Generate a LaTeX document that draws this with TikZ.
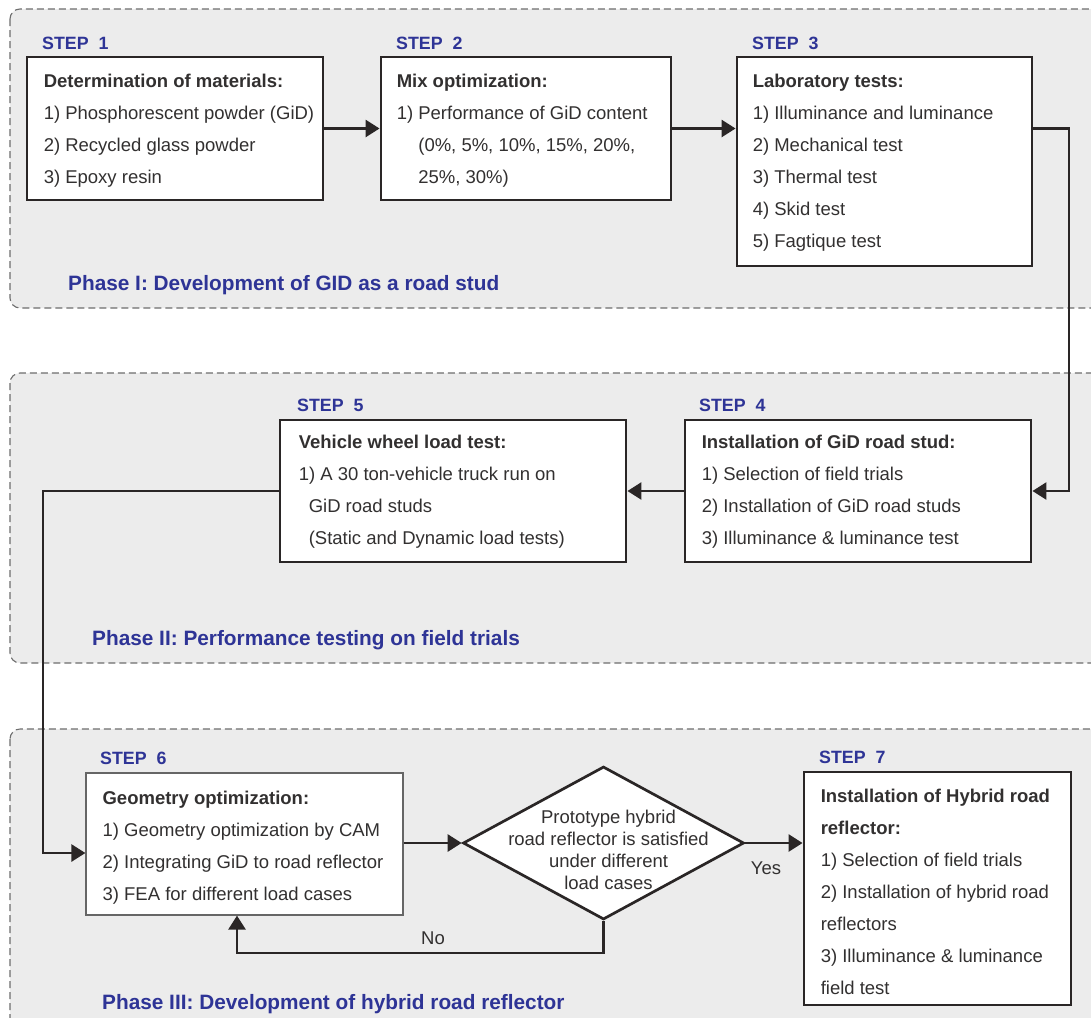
\documentclass[tikz,border=0pt]{standalone}
\usepackage{fontspec}
\setmainfont{Liberation Sans}
\usetikzlibrary{arrows.meta,shapes.geometric,calc}
\definecolor{panelfill}{RGB}{236,236,236}
\definecolor{dashgray}{RGB}{110,110,110}
\definecolor{stepblue}{RGB}{46,52,150}
\definecolor{textgray}{RGB}{50,48,48}
\definecolor{linegray}{RGB}{42,38,38}
\begin{document}
\begin{tikzpicture}[x=1pt,y=-1pt,
 panel/.style={draw=dashgray, fill=panelfill, dash pattern=on 7pt off 4pt, line width=1.1pt, rounded corners=10pt},
 stepbox/.style={draw=linegray, fill=white, line width=2.9pt, inner sep=0pt, rectangle},
 thinbox/.style={draw=black!60, fill=white, line width=1.2pt, inner sep=0pt, rectangle},
 decision/.style={draw=linegray, fill=white, line width=2.7pt, inner sep=0pt, diamond},
 boxtext/.style={anchor=north west, inner sep=0pt, align=left, text=textgray, font=\fontsize{18.5}{32}\selectfont},
 steplabel/.style={anchor=base west, inner sep=0pt, text=stepblue, font=\fontsize{17.8}{20}\selectfont\bfseries},
 phaselabel/.style={anchor=base west, inner sep=0pt, text=stepblue, font=\fontsize{20.8}{24}\selectfont\bfseries},
 conn/.style={draw=linegray, line width=2.7pt},
 arr/.style={conn, -{Triangle[length=14pt,width=17pt]}},
 plain/.style={inner sep=0pt, text=textgray, font=\fontsize{18.5}{22}\selectfont}
]
\fill[white] (0,0) rectangle (1091,1017);
\clip (0,0) rectangle (1091,1017);

% panels
\draw[panel] (10,9) rectangle (1120,308);
\draw[panel] (10,373) rectangle (1120,663);
\draw[panel] (10,729) rectangle (1120,1045);

% boxes
\node[stepbox, minimum width=296pt, minimum height=143pt] (s1) at (175,128.5) {};
\node[stepbox, minimum width=290pt, minimum height=143pt] (s2) at (526,128.5) {};
\node[stepbox, minimum width=295pt, minimum height=209pt] (s3) at (884.5,161.5) {};
\node[stepbox, minimum width=346pt, minimum height=142pt] (s4) at (858,491) {};
\node[stepbox, minimum width=346pt, minimum height=142pt] (s5) at (453,491) {};
\node[thinbox, minimum width=317pt, minimum height=142pt] (s6) at (244.5,844) {};
\node[decision, minimum width=281pt, minimum height=153pt] (dia) at (603.5,843) {};
\node[stepbox, minimum width=267pt, minimum height=233pt] (s7) at (937.5,888.5) {};

% step labels
\node[steplabel] (l1) at (42,49.4) {STEP~~1};
\node[steplabel] (l2) at (396,49.4) {STEP~~2};
\node[steplabel] (l3) at (752,49.4) {STEP~~3};
\node[steplabel] (l4) at (699,411.4) {STEP~~4};
\node[steplabel] (l5) at (297,411.4) {STEP~~5};
\node[steplabel] (l6) at (100,764.4) {STEP~~6};
\node[steplabel] (l7) at (819,763.4) {STEP~~7};

% box texts
\node[boxtext] (t1) at ($(s1.north west)+(18,17.5)$) {\rule{0pt}{14pt}\textbf{Determination of materials:}\\1) Phosphorescent powder (GiD)\\2) Recycled glass powder\\3) Epoxy resin};
\node[boxtext] (t2) at ($(s2.north west)+(17,17.5)$) {\rule{0pt}{14pt}\textbf{Mix optimization:}\\1) Performance of GiD content\\\hphantom{1)\ }(0\%, 5\%, 10\%, 15\%, 20\%,\\\hphantom{1)\ }25\%, 30\%)};
\node[boxtext] (t3) at ($(s3.north west)+(17,17.5)$) {\rule{0pt}{14pt}\textbf{Laboratory tests:}\\1) Illuminance and luminance\\2) Mechanical test\\3) Thermal test\\4) Skid test\\5) Fagtique test};
\node[boxtext] (t4) at ($(s4.north west)+(18,15.5)$) {\rule{0pt}{14pt}\textbf{Installation of GiD road stud:}\\1) Selection of field trials\\2) Installation of GiD road studs\\3) Illuminance \& luminance test};
\node[boxtext] (t5) at ($(s5.north west)+(20,15.5)$) {\rule{0pt}{14pt}\textbf{Vehicle wheel load test:}\\1) A 30 ton-vehicle truck run on\\\hspace*{10pt}GiD road studs\\\hspace*{10pt}(Static and Dynamic load tests)};
\node[boxtext] (t6) at ($(s6.north west)+(17,17.5)$) {\rule{0pt}{14pt}\textbf{Geometry optimization:}\\1) Geometry optimization by CAM\\2) Integrating GiD to road reflector\\3) FEA for different load cases};
\node[boxtext] (t7) at ($(s7.north west)+(18,17.5)$) {\rule{0pt}{14pt}\textbf{Installation of Hybrid road}\\\textbf{reflector:}\\1) Selection of field trials\\2) Installation of hybrid road\\reflectors\\3) Illuminance \& luminance\\field test};
\node[plain, align=center] (dtext) at ($(dia.center)+(5,7)$) {Prototype hybrid\\road reflector is satisfied\\under different\\load cases};

% phase labels
\node[phaselabel] (p1) at (68,290.5) {Phase I: Development of GID as a road stud};
\node[phaselabel] (p2) at (92,645.5) {Phase II: Performance testing on field trials};
\node[phaselabel] (p3) at (102,1009.5) {Phase III: Development of hybrid road reflector};

% connectors
\coordinate (b3) at (1069,128.5);
\coordinate (b5) at (43,491);
\coordinate (bno) at (603.5,953);
\draw[arr] (s1.east) -- (s2.west);
\draw[arr] (s2.east) -- (s2.east -| s3.west);
\draw[arr] (s2.east -| s3.east) -- (b3) |- (s4.east);
\draw[arr] (s4.west) -- (s5.east);
\draw[arr] (s5.west) -- (b5) |- ($(s6.west)+(0,9)$);
\draw[arr] ($(s6.east)+(0,-1)$) -- (dia.west);
\draw[arr] (dia.east) -- (dia.east -| s7.west);
\draw[arr] (dia.south) -- (bno) -| ($(s6.south)+(-7.5,0)$);
\node[plain] (yes) at (766,868) {Yes};
\node[plain] (no) at (433,938) {No};
\end{tikzpicture}
\end{document}
